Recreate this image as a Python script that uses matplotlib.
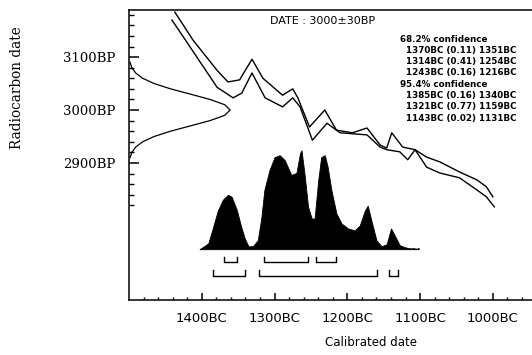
import matplotlib
matplotlib.use('Agg')
import matplotlib.pyplot as plt
import numpy as np
from matplotlib.ticker import FixedLocator, FixedFormatter

W, H = 532, 355

# Calibration curve band (calendar year BC, radiocarbon BP)
cal_upper_bc = [1437, 1412, 1379, 1364, 1348, 1331, 1316, 1289, 1275, 1268, 1252, 1231, 1215,
                1193, 1173, 1155, 1146, 1139, 1124, 1107, 1091, 1073, 1046, 1022, 1009, 1000]
cal_upper_bp = [3185, 3132, 3075, 3053, 3057, 3096, 3060, 3028, 3040, 3023, 2968, 3000, 2962,
                2957, 2966, 2934, 2928, 2957, 2930, 2925, 2911, 2902, 2883, 2868, 2855, 2836]
cal_lower_bc = [1441, 1416, 1379, 1357, 1345, 1331, 1313, 1289, 1275, 1265, 1248, 1228, 1210,
                1173, 1155, 1146, 1128, 1117, 1107, 1091, 1073, 1046, 1022, 1009, 998]
cal_lower_bp = [3170, 3119, 3043, 3023, 3032, 3070, 3023, 3006, 3023, 3006, 2943, 2975, 2957,
                2953, 2930, 2925, 2921, 2906, 2925, 2892, 2881, 2872, 2849, 2836, 2817]

# Radiocarbon measurement distribution (BP, relative probability)
c14_bp = [3090, 3080, 3070, 3060, 3050, 3040, 3030, 3020, 3010, 3000,
          2990, 2980, 2970, 2960, 2950, 2940, 2930, 2920, 2910]
c14_p = [0.011, 0.028, 0.066, 0.135, 0.249, 0.411, 0.607, 0.801, 0.946, 1.0,
         0.946, 0.801, 0.607, 0.411, 0.249, 0.135, 0.066, 0.028, 0.011]

# Calibrated probability distribution (BC, relative probability)
cal_bc = [1403, 1391, 1385, 1378, 1371, 1364, 1359, 1352, 1346, 1341, 1336, 1330, 1323, 1318,
          1314, 1307, 1300, 1293, 1286, 1277, 1270, 1265, 1263, 1259, 1254, 1249, 1245, 1240,
          1236, 1231, 1227, 1222, 1215, 1208, 1199, 1190, 1183, 1176, 1172, 1167, 1160, 1153,
          1146, 1140, 1135, 1128, 1121, 1115, 1103]
cal_p = [0.0, 0.06, 0.21, 0.39, 0.50, 0.55, 0.53, 0.40, 0.23, 0.11, 0.03, 0.03, 0.09, 0.33,
         0.60, 0.80, 0.93, 0.95, 0.90, 0.75, 0.77, 0.97, 1.0, 0.77, 0.43, 0.31, 0.31, 0.70,
         0.93, 0.95, 0.83, 0.60, 0.36, 0.26, 0.21, 0.19, 0.24, 0.39, 0.44, 0.29, 0.09, 0.03,
         0.05, 0.21, 0.14, 0.04, 0.02, 0.01, 0.006]

# Confidence ranges (BC)
range68_from = [1370, 1314, 1243]
range68_to = [1351, 1254, 1216]
range68_prob = [0.11, 0.41, 0.16]
range95_from = [1385, 1321, 1143]
range95_to = [1340, 1159, 1131]
range95_prob = [0.16, 0.77, 0.02]

x_ticks = [1400, 1300, 1200, 1100, 1000]
x_labels = ['1400BC', '1300BC', '1200BC', '1100BC', '1000BC']
y_ticks = [2900, 3000, 3100]
y_labels = ['2900BP', '3000BP', '3100BP']

fig = plt.figure(figsize=(W / 100, H / 100), dpi=100)
ax = fig.add_axes([129 / W, 55 / H, 484 / W, 290 / H])
ax.set_xlim(1500, 835)
ax.set_ylim(2641, 3189)

# calibration curve
ax.plot(cal_upper_bc, cal_upper_bp, color='black', lw=1.0)
ax.plot(cal_lower_bc, cal_lower_bp, color='black', lw=1.0)

# radiocarbon gaussian on left axis
ax.plot(1500 - 139 * np.array(c14_p), c14_bp, color='black', lw=0.9)

# calibrated histogram
base = 2737
scale = 187
ax.fill_between(cal_bc, base, base + scale * np.array(cal_p),
                color='black', lw=0.6, edgecolor='black')
ax.plot([1110, 1097], [base, base], color='black', lw=1.2, ls=(0, (1, 2)))

# range brackets
def brackets(starts, ends, level, hook):
    for a, b in zip(starts, ends):
        ax.plot([a, a, b, b], [level + hook, level, level, level + hook],
                color='black', lw=1.0)

brackets(range68_from, range68_to, 2713, 10)
brackets(range95_from, range95_to, 2687, 10)

# spines and ticks
ax.spines['right'].set_visible(False)
for s in ['left', 'bottom', 'top']:
    ax.spines[s].set_linewidth(1.1)

ax.xaxis.set_major_locator(FixedLocator(x_ticks))
ax.xaxis.set_major_formatter(FixedFormatter(x_labels))
ax.xaxis.set_minor_locator(FixedLocator([v for v in range(1500, 830, -20) if v % 100 != 0]))
ax.yaxis.set_major_locator(FixedLocator(y_ticks))
ax.yaxis.set_major_formatter(FixedFormatter(y_labels))
ax.yaxis.set_minor_locator(FixedLocator([v for v in range(2800, 3190, 20) if v % 100 != 0]))

ax.tick_params(axis='x', which='major', direction='in', length=5, width=1.1,
               labelsize=9.5, pad=9, top=False)
ax.tick_params(axis='x', which='minor', direction='in', length=2.5, width=1.0, top=False)
ax.tick_params(axis='y', which='major', direction='in', length=7, width=1.1,
               labelsize=9.5, pad=10, right=False)
ax.tick_params(axis='y', which='minor', direction='in', length=3.5, width=1.0, right=False)
for lbl in ax.get_yticklabels():
    lbl.set_family('DejaVu Serif')

# annotations
fig.text(270 / W, 1 - 21 / H, 'DATE : 3000\u00b130BP', fontsize=8, ha='left', va='center')

lines = ['68.2% confidence']
for a, p, b in zip(range68_from, range68_prob, range68_to):
    lines.append('  %dBC (%.2f) %dBC' % (a, p, b))
lines.append('95.4% confidence')
for a, p, b in zip(range95_from, range95_prob, range95_to):
    lines.append('  %dBC (%.2f) %dBC' % (a, p, b))
for i, t in enumerate(lines):
    fig.text(400 / W, 1 - (39 + i * 11.3) / H, t, fontsize=6.3, fontweight='bold',
             ha='left', va='center')

fig.text(17 / W, 1 - 88 / H, 'Radiocarbon date', rotation=90, family='DejaVu Serif',
         fontsize=9.8, ha='center', va='center')
fig.text(371 / W, 1 - 342 / H, 'Calibrated date', fontsize=8.5, ha='center', va='center')

fig.savefig('out.png', dpi=100)
